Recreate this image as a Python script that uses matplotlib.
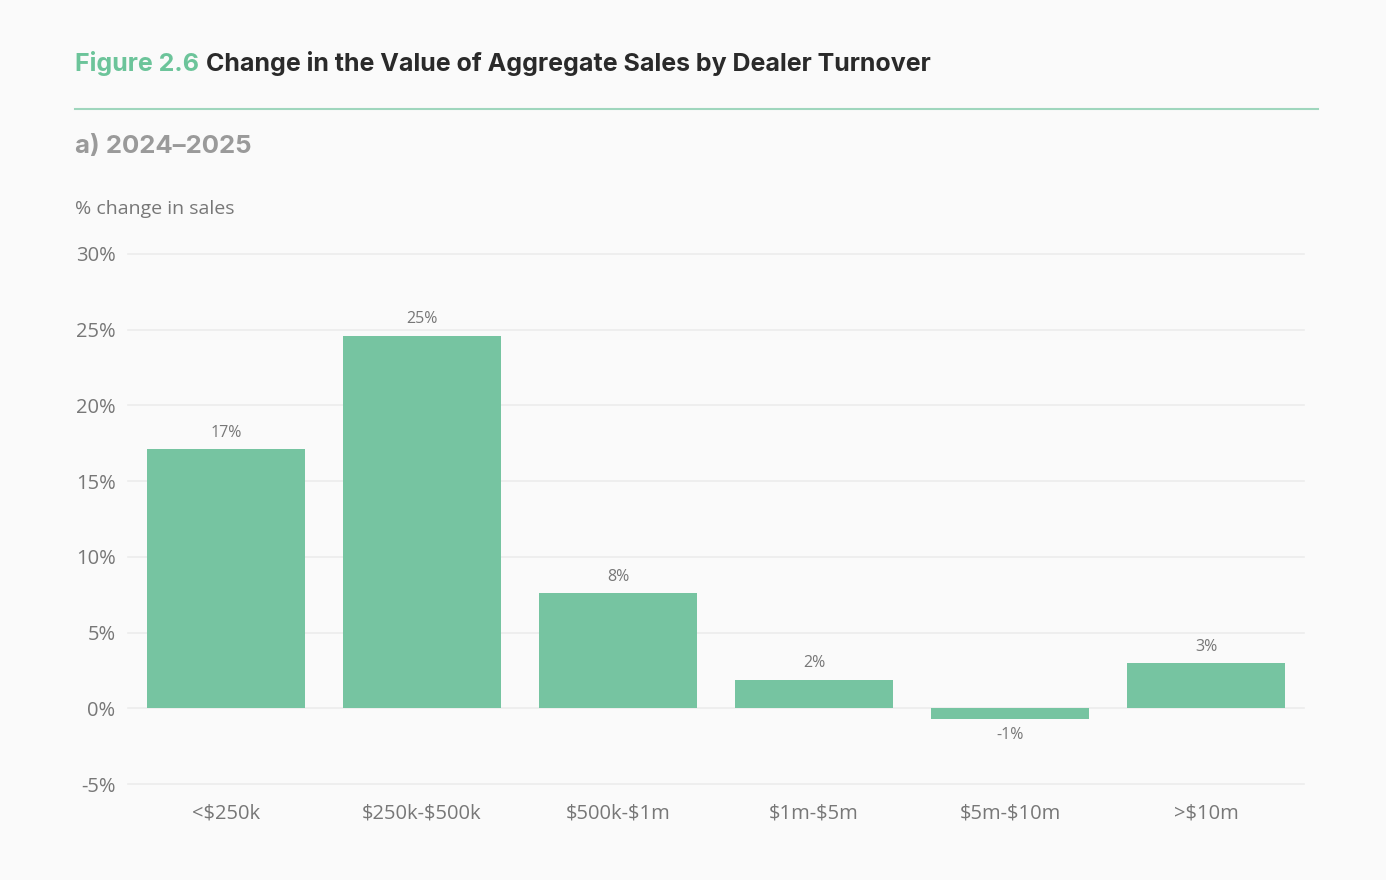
"""Change in value of aggregate sales by dealer turnover"""

import matplotlib.pyplot as plt

plt.rcParams['text.parse_math'] = False

categories = ['<$250k', '$250k-$500k', '$500k-$1m', '$1m-$5m', '$5m-$10m', '>$10m']
pct_change = [17.1, 24.6, 7.6, 1.9, -0.7, 3.0]
value_labels = ['17%', '25%', '8%', '2%', '-1%', '3%']
y_ticks = [-5, 0, 5, 10, 15, 20, 25, 30]

BG = '#fafafa'
GREEN = '#76c4a1'
GRID = '#ececec'


def main():
	fig = plt.figure(figsize=(13.86, 8.8), dpi=100, facecolor=BG)
	ax = fig.add_axes([128 / 1386, 1 - 784 / 880, 1176 / 1386, 530 / 880])
	ax.set_facecolor(BG)

	x = range(len(categories))
	ax.bar(x, pct_change, width=0.806, color=GREEN, zorder=3)

	for i, (v, lab) in enumerate(zip(pct_change, value_labels)):
		if v >= 0:
			ax.annotate(lab, (i, v), xytext=(0, 6), textcoords='offset points',
				ha='center', va='bottom', fontsize=11.5, color='#777777',
				family='Open Sans')
		else:
			ax.annotate(lab, (i, v), xytext=(0, -6), textcoords='offset points',
				ha='center', va='top', fontsize=11.5, color='#777777',
				family='Open Sans')

	ax.set_xlim(-0.5, len(categories) - 0.5)
	ax.set_ylim(-5, 30)
	ax.set_yticks(y_ticks)
	ax.set_yticklabels([f'{t}%' for t in y_ticks])
	ax.set_xticks(list(x))
	ax.set_xticklabels(categories)
	ax.grid(axis='y', color=GRID, linewidth=1.2, zorder=0)
	for gl in ax.get_ygridlines():
		gl.set_clip_on(False)
	for s in ax.spines.values():
		s.set_visible(False)
	ax.tick_params(length=0, labelsize=14.5, labelcolor='#777777')
	ax.tick_params(axis='y', pad=9)
	ax.tick_params(axis='x', pad=14)
	for lab in ax.get_xticklabels() + ax.get_yticklabels():
		lab.set_family('Open Sans')

	# header
	fig.text(75 / 1386, 1 - 63 / 880, 'Figure 2.6', fontsize=18, fontweight='bold',
		color='#6cc49a', family='Inter', va='center', ha='left')
	fig.text(206 / 1386, 1 - 63 / 880, 'Change in the Value of Aggregate Sales by Dealer Turnover',
		fontsize=18, fontweight='bold', color='#2a2a2a', family='Inter',
		va='center', ha='left')
	fig.add_artist(plt.Line2D([75 / 1386, 1318 / 1386], [1 - 109 / 880] * 2,
		color='#9fd6bd', linewidth=1.5))
	fig.text(75 / 1386, 1 - 146 / 880, 'a) 2024–2025', fontsize=18.5, fontweight='bold',
		color='#9a9a9a', family='Inter', va='center', ha='left')
	fig.text(75 / 1386, 1 - 209 / 880, '% change in sales', fontsize=14,
		color='#777777', family='Open Sans', va='center', ha='left')

	fig.savefig('out.png', dpi=100, facecolor=BG)
	plt.close(fig)


if __name__ == '__main__':
	main()
